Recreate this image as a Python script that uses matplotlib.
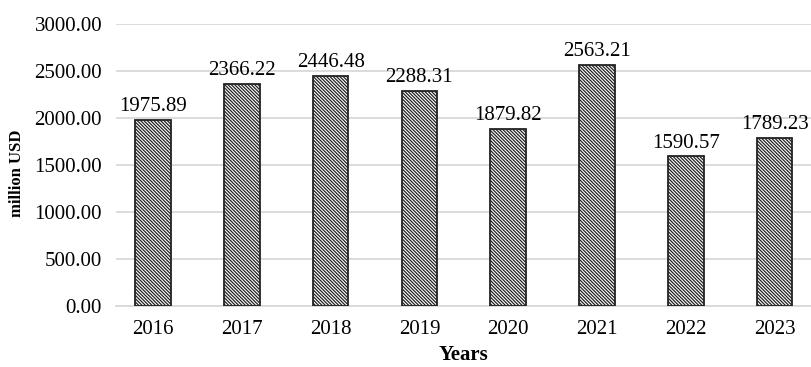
import matplotlib.pyplot as plt

plt.rcParams['font.family'] = ['Liberation Serif', 'DejaVu Serif']
plt.rcParams['hatch.linewidth'] = 0.9
plt.rcParams['hatch.color'] = '#111111'

years = ["2016", "2017", "2018", "2019", "2020", "2021", "2022", "2023"]
values = [1975.89, 2366.22, 2446.48, 2288.31, 1879.82, 2563.21, 1590.57, 1789.23]
yticks = [0, 500, 1000, 1500, 2000, 2500, 3000]

fig = plt.figure(figsize=(8.11, 3.67), dpi=100)
ax = fig.add_axes([116 / 811, 61 / 367, 695 / 811, 282 / 367])

x = list(range(len(years)))
ax.bar(x, values, width=0.4, color="white", edgecolor="#222222",
       linewidth=1.3, hatch="\\" * 10, zorder=3)

for xi, v in zip(x, values):
    ax.text(xi, v + 95, f"{v:.2f}", ha="center", va="baseline", fontsize=15)

ax.set_xlim(-0.417, 7.41)
ax.set_ylim(0, 3000)
ax.set_yticks(yticks)
ax.set_yticklabels([f"{t:.2f}" for t in yticks], fontsize=15)
ax.set_xticks(x)
ax.set_xticklabels(years, fontsize=15)
ax.tick_params(axis="y", length=0, pad=10)
ax.tick_params(axis="x", length=0, pad=10)
ax.grid(axis="y", color="#d9d9d9", linewidth=1.3, zorder=0)
for s in ["top", "right", "left"]:
    ax.spines[s].set_visible(False)
ax.spines["bottom"].set_color("#d9d9d9")
ax.spines["bottom"].set_linewidth(1.3)

ax.set_ylabel("million USD", fontsize=12, fontweight="bold")
ax.yaxis.set_label_coords(-91 / 695, 0.47)
ax.set_xlabel("Years", fontsize=15, fontweight="bold", va="bottom")
ax.xaxis.set_label_coords(0.5, -59 / 282)

fig.savefig("out.png", dpi=100)
